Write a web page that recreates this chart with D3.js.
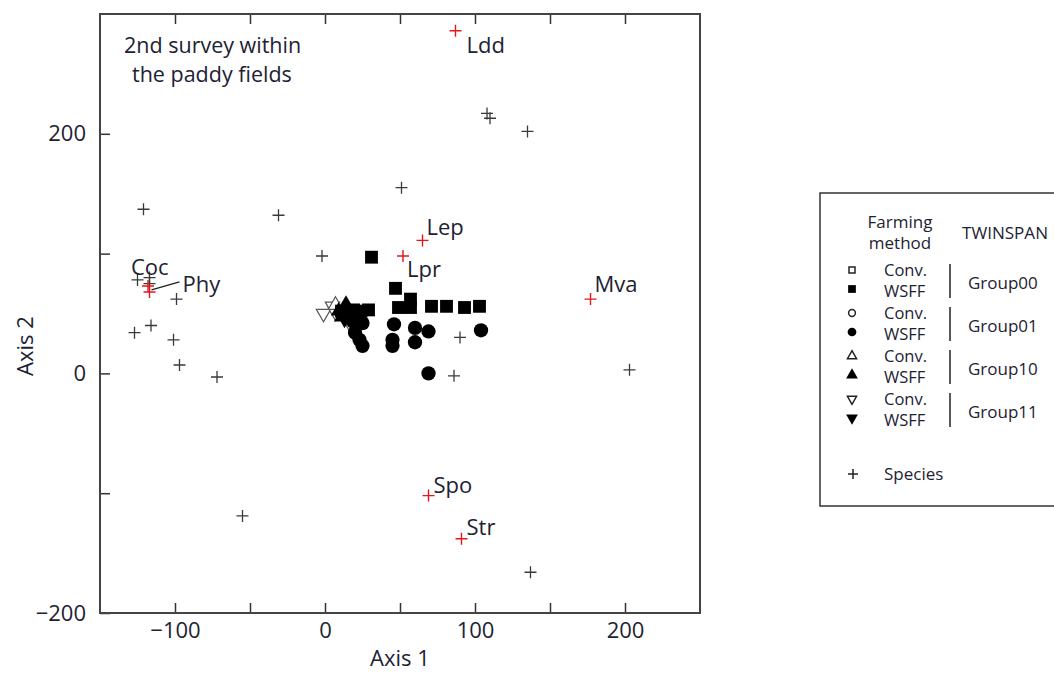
<!DOCTYPE html>
<html>
<head>
<meta charset="utf-8">
<script src="https://cdn.jsdelivr.net/npm/d3@7"></script>
<style>
  body { margin: 0; background: #fff; }
  text { font-family: "Open Sans", "Noto Sans", sans-serif; fill: #1d2233; }
</style>
</head>
<body>
<div id="chart"></div>
<script>
// species scores (plain crosses)
let speciesPts = [
    [-121, 137], [-31, 132], [51, 155], [108, 217], [110, 213], [135, 202],
    [-2, 98], [-125, 78], [-117, 80], [-117, 75], [-99, 62], [-116, 40],
    [-127, 34], [-101, 28], [-97, 7], [-72, -3], [-55, -119], [90, 30],
    [86, -2], [137, -166], [203, 3]
];

// highlighted species (red crosses)
let keyNames = ["Ldd", "Lep", "Lpr", "Mva", "Spo", "Str", "Coc", "Phy"];
let keyX = [87, 65, 52, 177, 69, 91, -118, -117];
let keyY = [286, 111, 98, 62, -102, -138, 73, 68];

// sample scores per TWINSPAN group
let g00wsff = [[31, 97], [47, 71], [57, 62], [49, 55], [57, 55], [71, 56], [81, 56],
    [93, 55], [103, 56], [11, 52], [19, 53], [24, 52], [29, 53]];
let g01wsff = [[46, 41], [60, 38], [69, 35], [104, 36], [45, 28], [45, 23], [60, 26],
    [69, 0], [19, 43], [25, 42], [20, 34], [23, 28], [25, 23]];
let g10conv = [[7, 57]];
let g10wsff = [[14, 58], [11, 47], [9, 52]];
let g11conv = [[-1, 50], [5, 56], [7, 51], [16, 43]];
let g11wsff = [[13, 45]];

let xTicks = [-100, -50, 0, 50, 100, 150, 200];
let yTicks = [-200, -100, 0, 100, 200];

let width = 1054, height = 675;

let svg = d3.select("#chart").append("svg")
    .attr("width", width)
    .attr("height", height);

let x = d3.scaleLinear().domain([-150, 250]).range([100, 700]);
let y = d3.scaleLinear().domain([-200, 300]).range([613, 14]);

let fmt = d3.format("");
let labelEvery100 = d => d % 100 === 0 ? fmt(d) : "";
let labelEvery200 = d => d % 200 === 0 ? fmt(d) : "";

function styleAxis(g) {
    g.select(".domain").remove();
    g.selectAll(".tick line").attr("stroke", "#333").attr("stroke-width", 1.5);
    g.selectAll(".tick text").attr("font-size", 22).attr("fill", "#1d2233");
}

svg.append("g")
    .attr("transform", "translate(0," + y.range()[0] + ")")
    .call(d3.axisBottom(x).tickValues(xTicks).tickSize(-10).tickPadding(9).tickFormat(labelEvery100))
    .call(styleAxis);

svg.append("g")
    .attr("transform", "translate(0," + y.range()[1] + ")")
    .call(d3.axisTop(x).tickValues(xTicks).tickSize(-10).tickFormat(""))
    .call(styleAxis);

svg.append("g")
    .attr("transform", "translate(" + x.range()[0] + ",0)")
    .call(d3.axisLeft(y).tickValues(yTicks).tickSize(-10).tickPadding(14).tickFormat(labelEvery200))
    .call(styleAxis);

// frame
svg.append("rect")
    .attr("x", x.range()[0])
    .attr("y", y.range()[1])
    .attr("width", x.range()[1] - x.range()[0])
    .attr("height", y.range()[0] - y.range()[1])
    .attr("fill", "none")
    .attr("stroke", "#444")
    .attr("stroke-width", 2);

svg.append("text")
    .attr("x", 400).attr("y", 666)
    .attr("text-anchor", "middle")
    .attr("font-size", 22)
    .text("Axis 1");

svg.append("text")
    .attr("transform", "translate(33,346)rotate(-90)")
    .attr("text-anchor", "middle")
    .attr("font-size", 22)
    .text("Axis 2");

svg.append("text")
    .attr("x", 124).attr("y", 53)
    .attr("font-size", 21.5)
    .text("2nd survey within");
svg.append("text")
    .attr("x", 132).attr("y", 82)
    .attr("font-size", 21.5)
    .text("the paddy fields");

let cross = "M-6,0H6M0,-6V6";

svg.append("g").selectAll("path")
    .data(speciesPts)
    .enter().append("path")
    .attr("d", cross)
    .attr("transform", d => "translate(" + x(d[0]) + "," + y(d[1]) + ")")
    .attr("stroke", "#3a3a3a")
    .attr("stroke-width", 1.3)
    .attr("fill", "none");

let sym = (type, size) => d3.symbol().type(type).size(size)();

function drawGroup(data, type, size, filled, rot) {
    svg.append("g").selectAll("path")
        .data(data)
        .enter().append("path")
        .attr("d", sym(type, size))
        .attr("transform", d => "translate(" + x(d[0]) + "," + y(d[1]) + ")" + (rot ? "rotate(180)" : ""))
        .attr("fill", filled ? "#000" : "#fff")
        .attr("stroke", filled ? "none" : "#555")
        .attr("stroke-width", 1.2);
}

drawGroup(g11conv, d3.symbolTriangle, 90, false, true);
drawGroup(g10conv, d3.symbolTriangle, 90, false, false);
drawGroup(g10wsff, d3.symbolTriangle, 100, true, false);
drawGroup(g11wsff, d3.symbolTriangle, 100, true, true);
drawGroup(g01wsff, d3.symbolCircle, 160, true, false);
drawGroup(g00wsff, d3.symbolSquare, 165, true, false);

// red highlighted species with labels
let labelOffset = {
    Ldd: [11, 22], Lep: [4, -5], Lpr: [4, 21], Mva: [4, -7],
    Spo: [5, -3], Str: [5, -4], Coc: [-17, -11], Phy: [33, 0]
};

let keys = keyNames.map((n, i) => ({name: n, x: keyX[i], y: keyY[i]}));

let keyG = svg.append("g");
keyG.selectAll("path")
    .data(keys)
    .enter().append("path")
    .attr("d", cross)
    .attr("transform", d => "translate(" + x(d.x) + "," + y(d.y) + ")")
    .attr("stroke", "#e3161b")
    .attr("stroke-width", 1.4);

keyG.selectAll("text")
    .data(keys)
    .enter().append("text")
    .attr("x", d => x(d.x) + labelOffset[d.name][0])
    .attr("y", d => y(d.y) + labelOffset[d.name][1])
    .attr("font-size", 22)
    .text(d => d.name);

// leader line for Phy
let phy = keys.find(k => k.name === "Phy");
svg.append("line")
    .attr("x1", x(phy.x) + 2).attr("y1", y(phy.y) - 2)
    .attr("x2", x(phy.x) + 30).attr("y2", y(phy.y) - 10)
    .attr("stroke", "#222")
    .attr("stroke-width", 1.2);

// legend
let legend = svg.append("g");
legend.append("rect")
    .attr("x", 820).attr("y", 193)
    .attr("width", 250).attr("height", 313)
    .attr("fill", "#fff")
    .attr("stroke", "#333")
    .attr("stroke-width", 1.5);

legend.append("text").attr("x", 900).attr("y", 228).attr("text-anchor", "middle")
    .attr("font-size", 17).text("Farming");
legend.append("text").attr("x", 900).attr("y", 249).attr("text-anchor", "middle")
    .attr("font-size", 17).text("method");
legend.append("text").attr("x", 962).attr("y", 239)
    .attr("font-size", 16)
    .attr("textLength", 86)
    .attr("lengthAdjust", "spacingAndGlyphs")
    .text("TWINSPAN");

let legendGroups = ["Group00", "Group01", "Group10", "Group11"];
let legendTypes = [d3.symbolSquare, d3.symbolCircle, d3.symbolTriangle, d3.symbolTriangle];
let legendRot = [false, false, false, true];

legendGroups.forEach((g, i) => {
    let top = 270 + i * 43;
    legend.append("path")
        .attr("d", sym(legendTypes[i], 36))
        .attr("transform", "translate(852," + top + ")" + (legendRot[i] ? "rotate(180)" : ""))
        .attr("fill", "#fff").attr("stroke", "#222").attr("stroke-width", 1.5);
    legend.append("path")
        .attr("d", sym(legendTypes[i], 60))
        .attr("transform", "translate(852," + (top + 19) + ")" + (legendRot[i] ? "rotate(180)" : ""))
        .attr("fill", "#000");
    legend.append("text").attr("x", 884).attr("y", top + 6).attr("font-size", 16.5).text("Conv.");
    legend.append("text").attr("x", 884).attr("y", top + 27).attr("font-size", 16.5).text("WSFF");
    legend.append("line")
        .attr("x1", 950).attr("x2", 950)
        .attr("y1", top - 6).attr("y2", top + 28)
        .attr("stroke", "#222").attr("stroke-width", 1.5);
    legend.append("text").attr("x", 968).attr("y", top + 19).attr("font-size", 17).text(g);
});

legend.append("path")
    .attr("d", "M-5,0H5M0,-5V5")
    .attr("transform", "translate(853,474)")
    .attr("stroke", "#222").attr("stroke-width", 1.5);
legend.append("text").attr("x", 884).attr("y", 480).attr("font-size", 17).text("Species");
</script>
</body>
</html>
